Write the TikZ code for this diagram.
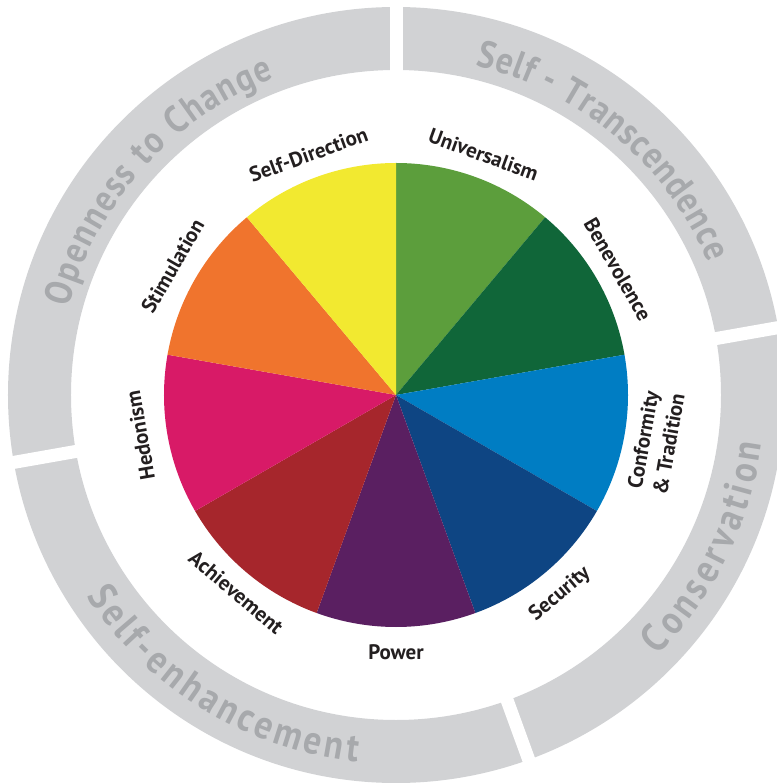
\documentclass[tikz,border=0pt]{standalone}
\usepackage{fontspec}
\setmainfont{PT Sans}
\newfontfamily\ringfont[BoldFeatures={FakeStretch=0.88}]{PT Sans}
\usetikzlibrary{decorations.text}
\definecolor{ringgray}{HTML}{D1D2D4}
\definecolor{ringtext}{HTML}{A7A9AC}
\definecolor{labtext}{HTML}{231F20}
\definecolor{cSD}{HTML}{F2E930}
\definecolor{cUN}{HTML}{5C9E3C}
\definecolor{cBE}{HTML}{106639}
\definecolor{cCT}{HTML}{007DC3}
\definecolor{cSE}{HTML}{0E4583}
\definecolor{cPO}{HTML}{5A1F61}
\definecolor{cAC}{HTML}{A6262C}
\definecolor{cHE}{HTML}{D81A67}
\definecolor{cST}{HTML}{F0742D}
\tikzset{
  lab/.style={font=\fontsize{21}{26}\selectfont\bfseries, text=labtext, inner sep=0pt},
  gapline/.style={white, line width=13pt},
  ringlabel/.style 2 args={decorate, decoration={text along path, text align=fit to path,
      text color=ringtext, text={|\ringfont\fontsize{#1}{#1}\selectfont\bfseries|#2}}}
}
\newcommand{\slice}[3]{\fill[#1] (0,0) -- (#2:232pt) arc[start angle=#2, end angle=#3, radius=232pt] -- cycle;}
\begin{document}
\begin{tikzpicture}
\useasboundingbox (-396pt,-388pt) rectangle (380pt,395pt);
\coordinate (c) at (0,0);
% outer ring
\fill[ringgray, even odd rule] (c) circle[radius=388pt] (c) circle[radius=325pt];
\foreach \a in {90,10,-70,190} \draw[gapline] (\a:315pt) -- (\a:400pt);
% ring labels
\path[ringlabel={38}{Openness to Change}] (165:339pt) arc[start angle=165, end angle=111, radius=339pt];
\path[ringlabel={38}{Self - Transcendence}] (76.5:339pt) arc[start angle=76.5, end angle=23, radius=339pt];
\path[ringlabel={40}{Conservation}] (-44.8:369pt) arc[start angle=-44.8, end angle=-7.5, radius=369pt];
\path[ringlabel={40}{Self-enhancement}] (213:369pt) arc[start angle=213, end angle=264, radius=369pt];
% pie
\slice{cUN}{50}{90}
\slice{cBE}{10}{50}
\slice{cCT}{-30}{10}
\slice{cSE}{-70}{-30}
\slice{cPO}{-110}{-70}
\slice{cAC}{-150}{-110}
\slice{cHE}{-190}{-150}
\slice{cST}{130}{170}
\slice{cSD}{90}{130}
% labels
\node[lab, rotate=20] (sd) at (110:256pt) {Self-Direction};
\node[lab, rotate=-20] (un) at (70:256pt) {Universalism};
\node[lab, rotate=-60] (be) at (29.5:255pt) {Benevolence};
\node[lab, rotate=80, align=center] (ct) at (-10.2:264pt) {Conformity\\\& Tradition};
\node[lab, rotate=40] (se) at (-50.5:258pt) {Security};
\node[lab] (po) at (-90:257pt) {Power};
\node[lab, rotate=-40] (ac) at (-129:254pt) {Achievement};
\node[lab, rotate=100] (he) at (189:259pt) {Hedonism};
\node[lab, rotate=60] (st) at (150:258pt) {Stimulation};
\end{tikzpicture}
\end{document}
